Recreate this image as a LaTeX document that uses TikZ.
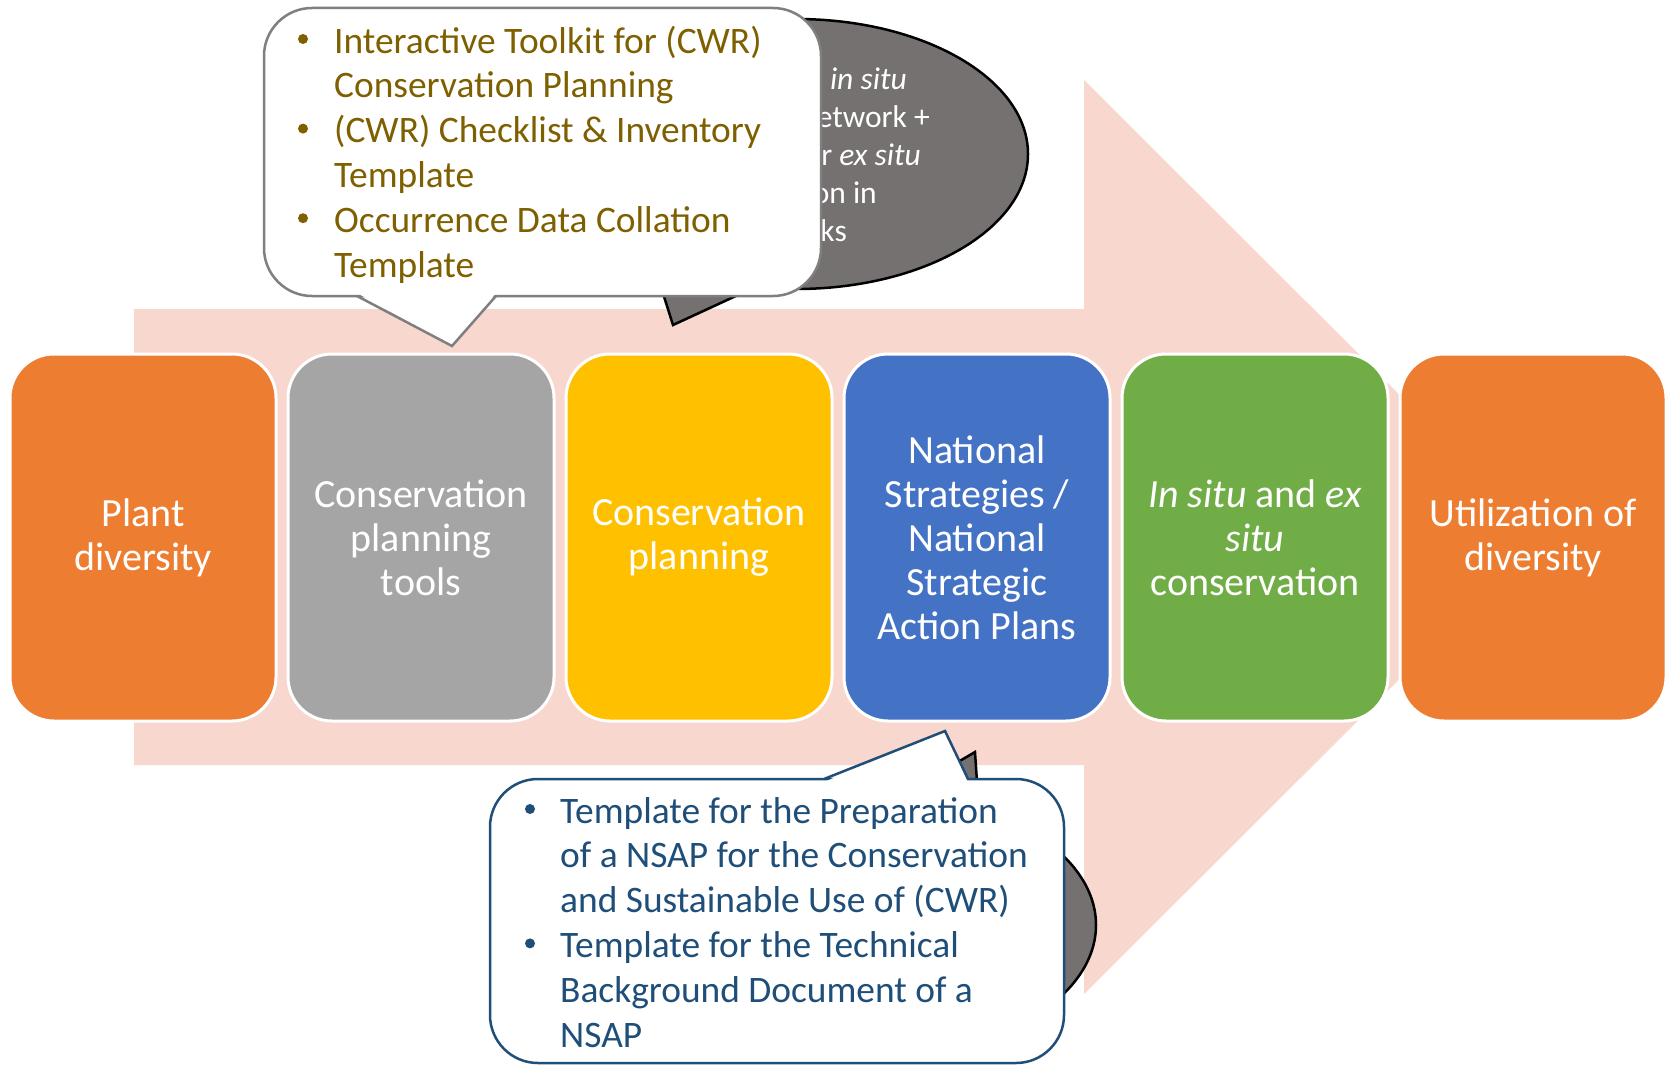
\documentclass[tikz,border=0pt]{standalone}
\usepackage{fontspec}
\setmainfont{Carlito}
\usetikzlibrary{shapes.geometric}

\definecolor{accOrange}{HTML}{ED7D31}
\definecolor{accGrey}{HTML}{A5A5A5}
\definecolor{accGold}{HTML}{FFC000}
\definecolor{accBlue}{HTML}{4472C4}
\definecolor{accGreen}{HTML}{70AD47}
\definecolor{flowPink}{RGB}{248,216,206}
\definecolor{bubbleGrey}{HTML}{767171}
\definecolor{toolText}{HTML}{7F6000}
\definecolor{navyText}{HTML}{1F4E79}
\definecolor{noteLine}{HTML}{7F7F7F}

\begin{document}
\begin{tikzpicture}[x=1pt,y=-1pt,
  stage/.style={rectangle, rounded corners=44pt, draw=white, line width=3pt,
    minimum width=266pt, minimum height=367pt, inner sep=0pt,
    text=white, align=center, font=\fontsize{40}{44}\selectfont},
  bubble/.style={ellipse, fill=bubbleGrey, draw=black, line width=2.5pt,
    minimum width=464pt, minimum height=270pt, inner sep=0pt},
  bubbletip/.style={fill=bubbleGrey, draw=black, line width=2.5pt, line join=miter},
  bubbletext/.style={anchor=base east, inner sep=0pt, text=white,
    font=\fontsize{31.5}{38}\selectfont},
  notebody/.style={rectangle, rounded corners=48pt, fill=white, line width=2.5pt, inner sep=0pt},
  noteline/.style={anchor=base west, inner sep=0pt, font=\fontsize{37.4}{44.8}\selectfont}
]
% page
\fill[white] (0,0) rectangle (1667,1065);
\useasboundingbox (0,0) rectangle (1667,1065);

% large flow arrow in the background
\fill[flowPink] (134,309) -- (1084,309) -- (1084,80) -- (1542,537)
  -- (1084,994) -- (1084,765) -- (134,765) -- cycle;

% upper grey speech bubble
\node[bubble] (scopeBubble) at (796,154) {};
\node[bubbletext] (sb1) at (907,89)  {Establish \textit{in situ}};
\node[bubbletext] (sb2) at (930,127) {network +};
\node[bubbletext] (sb3) at (921,165) {collect for \textit{ex situ}};
\node[bubbletext] (sb4) at (877,203) {conservation in};
\node[bubbletext] (sb5) at (847,241) {genebanks};
\coordinate (sbA) at (654,265);
\coordinate (sbTip) at (673,325);
\coordinate (sbB) at (751,289);
\draw[bubbletip] (sbA) -- (sbTip) -- (sbB) -- cycle;

% upper callout: planning tools
\node[notebody, draw=noteLine, minimum width=557pt, minimum height=288pt] (toolsNote) at (542.5,152) {};
\coordinate (tnA) at (357,296);
\coordinate (tnTip) at (452,346);
\coordinate (tnB) at (496,296);
\fill[white] (357,293) -- (tnTip) -- (496,293) -- cycle;
\draw[noteLine, line width=2.5pt, line join=miter] (tnA) -- (tnTip) -- (tnB);

\begin{scope}[toolText]
  \foreach \ln [count=\k from 0] in {Interactive Toolkit for (CWR), Conservation Planning,
      (CWR) Checklist \& Inventory, Template, Occurrence Data Collation, Template}
    \node[noteline, text=toolText] (tl\k) at (334,53+44.8*\k) {\ln};
  \foreach \k in {0,2,4}
    \fill (303,39+44.8*\k) circle (5pt);
\end{scope}

% lower grey speech bubble
\node[bubble] (actionBubble) at (864,925) {};
\coordinate (abA) at (900,796);
\coordinate (abTip) at (975,752);
\coordinate (abB) at (979,812);
\draw[bubbletip] (abA) -- (abTip) -- (abB) -- cycle;

% lower callout: NSAP templates
\node[notebody, draw=navyText, minimum width=574pt, minimum height=284pt] (nsapNote) at (777,921) {};
\coordinate (nnA) at (824,779);
\coordinate (nnTip) at (945,731);
\coordinate (nnB) at (968,779);
\fill[white] (824,782) -- (nnTip) -- (968,782) -- cycle;
\draw[navyText, line width=2.5pt, line join=miter] (nnA) -- (nnTip) -- (nnB);

\begin{scope}[navyText]
  \foreach \ln [count=\k from 0] in {Template for the Preparation, of a NSAP for the Conservation,
      and Sustainable Use of (CWR), Template for the Technical,
      Background Document of a, NSAP}
    \node[noteline, text=navyText] (nl\k) at (560,823+44.8*\k) {\ln};
  \foreach \k in {0,3}
    \fill (530,809+44.8*\k) circle (5pt);
\end{scope}

% process stages
\node[stage, fill=accOrange] (plant)    at (143,537.5)  {Plant\\diversity};
\node[stage, fill=accGrey]   (tools)    at (421,537.5)  {Conservation\\planning\\tools};
\node[stage, fill=accGold]   (planning) at (699,537.5)  {Conservation\\planning};
\node[stage, fill=accBlue]   (nsap)     at (977,537.5)  {National\\Strategies /\\National\\Strategic\\Action Plans};
\node[stage, fill=accGreen]  (insitu)   at (1255,537.5) {\textit{In situ} and \textit{ex}\\\textit{situ}\\conservation};
\node[stage, fill=accOrange] (use)      at (1533,537.5) {Utilization of\\diversity};
\end{tikzpicture}
\end{document}
